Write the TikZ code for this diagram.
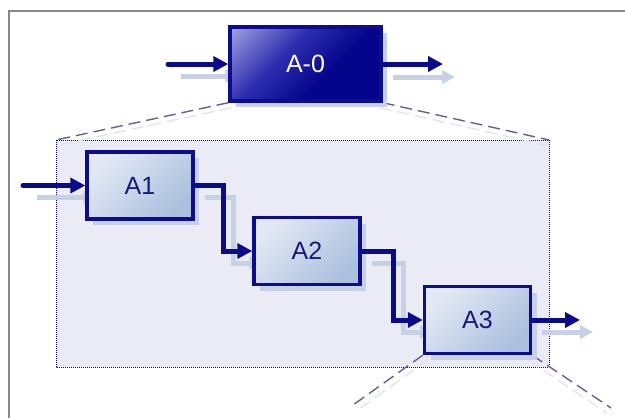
\documentclass[tikz,border=0pt]{standalone}
\usepackage{fontspec}
\setmainfont{Liberation Sans}
\usetikzlibrary{arrows.meta,shadows}
\definecolor{navy}{RGB}{10,10,140}
\definecolor{boxline}{RGB}{12,12,145}
\definecolor{shadowc}{RGB}{198,209,229}
\definecolor{boxtop}{RGB}{226,233,245}
\definecolor{boxbot}{RGB}{172,191,221}
\definecolor{rectfill}{RGB}{235,235,245}
\definecolor{dashc}{RGB}{95,95,165}
\definecolor{dashsh}{RGB}{226,226,240}
\definecolor{framec}{RGB}{136,136,136}
\definecolor{txtc}{RGB}{25,25,125}
\definecolor{azdark}{RGB}{5,5,140}
\definecolor{azmid}{RGB}{45,45,175}
\definecolor{azlight}{RGB}{185,185,235}
\pgfdeclareverticalshading{azero}{100bp}{color(0bp)=(azdark); color(40bp)=(azdark); color(60bp)=(azmid); color(90bp)=(azlight); color(100bp)=(azlight)}
\pgfdeclarelayer{back}
\pgfdeclarelayer{mid}
\pgfsetlayers{back,mid,main}
\begin{document}
\begin{tikzpicture}[x=1pt,y=-1pt,
  proc/.style={draw=boxline, line width=3.4pt, minimum width=106pt, minimum height=67pt,
    top color=boxtop, bottom color=boxbot, shading angle=45, text=txtc,
    font=\fontsize{25}{29}\selectfont,
    drop shadow={shadow xshift=6pt, shadow yshift=-6pt, fill=shadowc, opacity=1}},
  topproc/.style={draw=boxline, line width=3.4pt, minimum width=151pt, minimum height=74pt,
    shading=azero, shading angle=45, text=white,
    font=\fontsize{25}{29}\selectfont,
    drop shadow={shadow xshift=6pt, shadow yshift=-6pt, fill=shadowc, opacity=1}},
  flow/.style={draw=navy, line width=5pt, line cap=round,
    -{Triangle[length=15pt,width=15pt]}},
  sflow/.style={draw=shadowc, line width=5pt,
    -{Triangle[length=13pt,width=13pt]}},
  zoomline/.style={draw=dashc, line width=1.4pt, dash pattern=on 12pt off 6pt},
  zoomsh/.style={draw=dashsh, line width=1.4pt, dash pattern=on 12pt off 6pt},
  framel/.style={draw=framec, line width=2pt},
  detail/.style={fill=rectfill, draw=navy, line width=1pt, dash pattern=on 1pt off 1pt}
]
\useasboundingbox (0,0) rectangle (625,418);

\node[topproc] (A0) at (305.5,64) {A-0};
\node[proc] (A1) at (140,185.5) {A1};
\node[proc] (A2) at (307,251) {A2};
\node[proc] (A3) at (477.5,320) {A3};

\coordinate (in0) at (168,64);
\coordinate (out0) at (443,64);
\coordinate (in1) at (23,185.5);
\coordinate (out3) at (580,320);
\coordinate (dtl) at (56,140);
\coordinate (dbr) at (549,367);
\coordinate (dtr) at (549,140);
\coordinate (bl) at (353,405);
\coordinate (br) at (611,408);

\begin{pgfonlayer}{back}
  \draw[framel] (8,11) -- (625,11);
  \draw[framel] (9,10) -- (9,418);
  \path[detail] (dtl) rectangle (dbr);
  \draw[zoomsh] ([shift={(3,5)}]A0.south west) -- ([shift={(3,5)}]dtl);
  \draw[zoomsh] ([shift={(-3,5)}]A0.south east) -- ([shift={(-3,5)}]dtr);
  \draw[zoomsh] ([shift={(6,4)}]A3.south west) -- ([shift={(6,4)}]bl);
  \draw[zoomsh] ([shift={(-4,5)}]A3.south east) -- ([shift={(-4,5)}]br);
  \draw[zoomline] (A0.south west) -- (dtl);
  \draw[zoomline] (A0.south east) -- (dtr);
  \draw[zoomline] (A3.south west) -- (bl);
  \draw[zoomline] (A3.south east) -- (br);
\end{pgfonlayer}

\begin{pgfonlayer}{mid}
  \draw[sflow] ([shift={(13,12)}]in0) -- ([shift={(10,12)}]A0.west);
  \draw[sflow] ([shift={(10,13)}]A0.east) -- ([shift={(12,13)}]out0);
  \draw[sflow] ([shift={(14,12)}]in1) -- ([shift={(11,12)}]A1.west);
  \draw[sflow] ([shift={(10,12)}]A1.east) -- ++(29,0) |- ([shift={(10,12)}]A2.west);
  \draw[sflow] ([shift={(10,12)}]A2.east) -- ++(32,0) |- ([shift={(10,12)}]A3.west);
  \draw[sflow] ([shift={(10,12)}]A3.east) -- ([shift={(13,12)}]out3);
\end{pgfonlayer}

\draw[flow] (in0) -- (A0.west);
\draw[flow] (A0.east) -- (out0);
\draw[flow] (in1) -- (A1.west);
\draw[flow] (A1.east) -- ++(29,0) |- (A2.west);
\draw[flow] (A2.east) -- ++(32,0) |- (A3.west);
\draw[flow] (A3.east) -- (out3);
\end{tikzpicture}
\end{document}
